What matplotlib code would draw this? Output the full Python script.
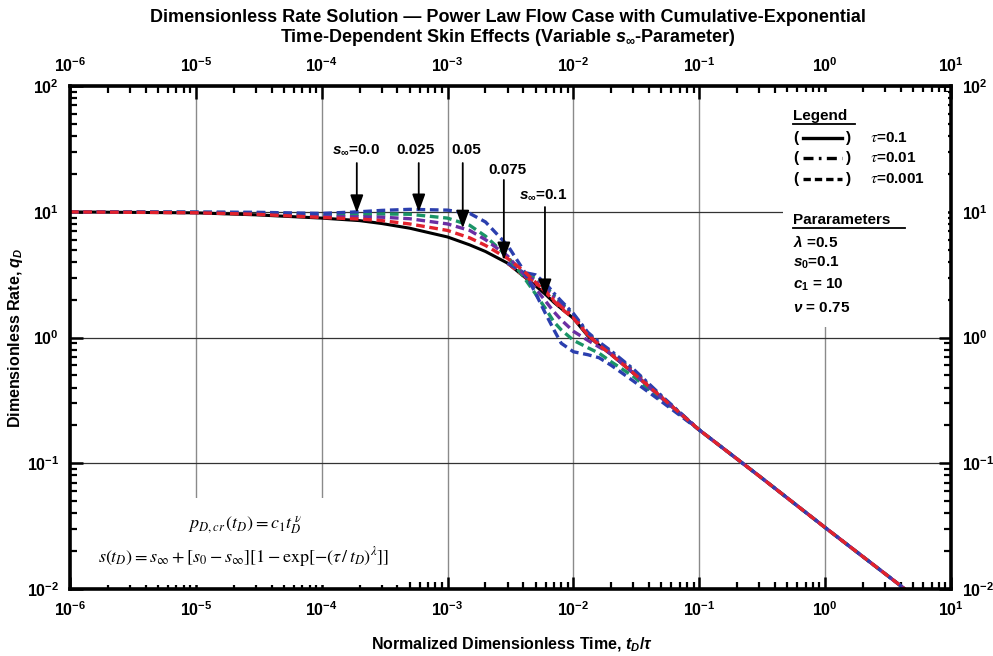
import numpy as np
import matplotlib
matplotlib.use('Agg')
import matplotlib.pyplot as plt
from matplotlib import font_manager
from matplotlib.lines import Line2D
from matplotlib.patches import Rectangle
from matplotlib.ticker import FixedLocator, LogLocator, NullFormatter

# normalized time t_D/tau shared by the tau=0.1 / tau=0.001 curves
t = [1e-6, 1e-5, 3e-5, 1e-4, 2e-4, 3e-4, 5e-4, 1e-3, 1.5e-3, 2e-3, 3e-3, 4e-3,
     5e-3, 6e-3, 7e-3, 8e-3, 1e-2, 1.3e-2, 1.6e-2, 2e-2, 3e-2, 5e-2, 0.1, 0.3,
     1.0, 4.3]

# solid reference curve
q_black = [9.97, 9.8, 9.45, 8.9, 8.5, 8.06, 7.4, 6.3, 5.45, 4.83, 3.9, 3.08,
           2.58, 2.2, 1.9, 1.7, 1.42, 1.03, 0.87, 0.73, 0.52, 0.335, 0.184,
           0.079, 0.0308, 0.01]

# dashed curves (tau=0.001), one per s_inf value
q_red = [9.97, 9.82, 9.55, 9.0, 8.75, 8.5, 8.0, 7.1, 6.2, 5.4, 4.25, 3.4,
         2.75, 2.3, 1.95, 1.7, 1.42, 1.05, 0.87, 0.73, 0.52, 0.335, 0.184,
         0.079, 0.0308, 0.01]
q_purple = [9.97, 9.85, 9.65, 9.15, 9.1, 9.05, 8.8, 8.0, 7.1, 6.0, 4.45, 3.2,
            2.45, 1.95, 1.6, 1.38, 1.12, 0.95, 0.84, 0.74, 0.52, 0.33, 0.184,
            0.079, 0.0308, 0.01]
q_green = [9.97, 9.9, 9.8, 9.4, 9.5, 9.6, 9.55, 8.9, 7.8, 6.4, 4.4, 3.05,
           2.22, 1.7, 1.33, 1.15, 0.95, 0.83, 0.75, 0.64, 0.49, 0.32, 0.184,
           0.079, 0.0308, 0.01]
q_blue = [9.97, 9.95, 9.9, 9.7, 10.0, 10.25, 10.45, 10.3, 9.7, 8.3, 5.4, 3.45,
          2.25, 1.55, 1.15, 0.9, 0.77, 0.73, 0.69, 0.6, 0.45, 0.31, 0.184,
          0.079, 0.0308, 0.01]

# dash-dot curves (tau=0.01)
t_dd = [3e-3, 4e-3, 5e-3, 6e-3, 7e-3, 8e-3, 1e-2, 1.3e-2, 1.6e-2, 2e-2, 3e-2,
        5e-2, 0.1]
q_red_dd = [3.9, 3.1, 2.7, 2.32, 1.98, 1.75, 1.46, 1.05, 0.88, 0.74, 0.53,
            0.336, 0.184]
q_purple_dd = [3.9, 3.15, 2.85, 2.45, 2.08, 1.82, 1.49, 1.07, 0.89, 0.75,
               0.54, 0.338, 0.184]
q_green_dd = [3.9, 3.2, 2.95, 2.55, 2.15, 1.88, 1.52, 1.08, 0.9, 0.76, 0.55,
              0.34, 0.184]
q_blue_dd = [3.9, 3.3, 3.15, 2.7, 2.25, 1.95, 1.55, 1.1, 0.92, 0.78, 0.56,
             0.345, 0.184]

# arrow labels: text, text position, arrow tail, arrow tip
s_inf_labels = [r'$s_\infty$=0.0', '0.025', '0.05', '0.075', r'$s_\infty$=0.1']
label_xy = [(1.87e-4, 31), (5.6e-4, 31), (1.4e-3, 31), (3.0e-3, 21.5),
            (5.73e-3, 13.6)]
arrow_tail = [(1.9e-4, 24.4), (5.9e-4, 24.4), (1.32e-3, 24.4), (2.8e-3, 17.9),
              (5.94e-3, 10.9)]
arrow_tip = [(1.9e-4, 9.8), (5.9e-4, 9.95), (1.32e-3, 7.4), (2.8e-3, 4.13),
             (5.94e-3, 2.1)]

x_exp = list(range(-6, 2))
y_exp = list(range(-2, 3))

BLUE = '#2b3fae'
GREEN = '#1a9466'
PURPLE = '#6b2fa3'
RED = '#e2222c'

installed = {f.name for f in font_manager.fontManager.ttflist}
narrow = 'Liberation Sans Narrow' if 'Liberation Sans Narrow' in installed else 'Liberation Sans'

# weight stays normal globally so the STIX formulas resolve to the regular face
plt.rcParams.update({
    'font.family': 'Liberation Sans',
    'mathtext.fontset': 'custom',
    'mathtext.rm': 'Liberation Sans:bold',
    'mathtext.bf': 'Liberation Sans:bold',
    'mathtext.it': 'Liberation Sans:italic:bold',
})
B = dict(fontweight='bold')

W, H = 993, 656
fig = plt.figure(figsize=(W / 100, H / 100), dpi=100)
ax = fig.add_axes([70 / W, 67 / H, 881 / W, 503 / H])


def fpos(X, Y):
    return X / W, 1 - Y / H


ax.set_xscale('log')
ax.set_yscale('log')
ax.set_xlim(1e-6, 10)
ax.set_ylim(1e-2, 1e2)

# grid: grey verticals, dark horizontals, kept under everything
ax.set_axisbelow(True)
ax.grid(True, which='major', axis='x', color='#8a8a8a', lw=1.0)
ax.grid(True, which='major', axis='y', color='#333333', lw=0.9)

# white panels behind the legend block and the formulas
ax.add_patch(Rectangle((0.809, 0.521), 0.188, 0.467, transform=ax.transAxes,
                       facecolor='white', edgecolor='none', zorder=1))
ax.add_patch(Rectangle((0.017, 0.008), 0.363, 0.173, transform=ax.transAxes,
                       facecolor='white', edgecolor='none', zorder=1))

dash = (2.6, 1.4)
dashdot = (3.0, 1.2, 0.9, 1.2)

ax.plot(t, q_black, color='black', lw=2.2, zorder=2)
for q, c in [(q_green_dd, GREEN), (q_purple_dd, PURPLE), (q_red_dd, RED),
             (q_blue_dd, BLUE)]:
    ax.plot(t_dd, q, color=c, lw=2.4, dashes=dashdot, zorder=2.2)
for q, c in [(q_green, GREEN), (q_purple, PURPLE), (q_blue, BLUE), (q_red, RED)]:
    ax.plot(t, q, color=c, lw=2.4, dashes=dash, zorder=2.4)

for txt, xy, tail, tip in zip(s_inf_labels, label_xy, arrow_tail, arrow_tip):
    ax.text(xy[0], xy[1], txt, ha='center', va='center', fontsize=11,
            zorder=4, **B)
    ax.annotate('', xy=tip, xytext=tail,
                arrowprops=dict(arrowstyle='-|>,head_length=0.6,head_width=0.22',
                                color='black', lw=1.3, mutation_scale=18,
                                shrinkA=0, shrinkB=0), zorder=4)

# ticks on all four sides, pointing in
ax.xaxis.set_major_locator(FixedLocator([10.0 ** e for e in x_exp]))
ax.yaxis.set_major_locator(FixedLocator([10.0 ** e for e in y_exp]))
ax.set_xticklabels([r'$\mathbf{10^{%d}}$' % e for e in x_exp])
ax.set_yticklabels([r'$\mathbf{10^{%d}}$' % e for e in y_exp])
for axis in (ax.xaxis, ax.yaxis):
    axis.set_minor_locator(LogLocator(base=10, subs=np.arange(2, 10), numticks=100))
    axis.set_minor_formatter(NullFormatter())
ax.tick_params(which='both', direction='in', top=True, right=True,
               labeltop=True, labelright=True, labelsize=11.5)
ax.tick_params(which='major', length=9, width=1.8, pad=8)
ax.tick_params(which='minor', length=5, width=1.6)
for sp in ax.spines.values():
    sp.set_linewidth(2.6)

ax.set_xlabel(r'Normalized Dimensionless Time, $t_D$/$\tau$', fontsize=11.5, **B)
ax.set_ylabel(r'Dimensionless Rate, $q_D$', fontsize=11.5, **B)
ax.xaxis.set_label_coords(0.502, -0.093)
ax.yaxis.set_label_coords(-0.051, 0.5)

# title
fig.text(*fpos(508, 17), 'Dimensionless Rate Solution \u2014 Power Law Flow Case with '
         'Cumulative-Exponential', ha='center', va='center', family=narrow,
         fontsize=13, **B)
fig.text(*fpos(508, 38), r'Time-Dependent Skin Effects (Variable $s_\infty$-Parameter)',
         ha='center', va='center', family=narrow, fontsize=13, **B)

# formulas
ax.text(*ax.transAxes.inverted().transform(fig.transFigure.transform(fpos(245, 525))),
        r'$p_{D,cr}\,(t_D) = c_1 t_D^{\;\nu}$', transform=ax.transAxes,
        ha='center', va='center', fontsize=13, math_fontfamily='stix', zorder=4)
ax.text(*ax.transAxes.inverted().transform(fig.transFigure.transform(fpos(244, 557))),
        r'$s(t_D) = s_\infty + [s_0 - s_\infty][1 - \exp[-(\tau\,/\,t_D)^{\lambda}]]$',
        transform=ax.transAxes, ha='center', va='center', fontsize=13,
        math_fontfamily='stix', zorder=4)

# legend block
lx = 793
fig.text(*fpos(lx, 116), 'Legend', ha='left', va='center', fontsize=11, **B)
fig.add_artist(Line2D([lx / W, 855 / W], [1 - 124 / H] * 2, color='black', lw=1.3))
rows = [(138, '-', r'$\tau$=0.1'), (158, (0, (3.0, 1.6, 0.8, 1.6)), r'$\tau$=0.01'),
        (179, (0, (2.2, 1.2)), r'$\tau$=0.001')]
for Y, ls, lab in rows:
    fig.text(*fpos(lx, Y), '(', ha='left', va='center', fontsize=11, **B)
    fig.text(*fpos(846, Y), ')', ha='left', va='center', fontsize=11, **B)
    fig.add_artist(Line2D([803 / W, 842 / W], [1 - Y / H] * 2, color='black',
                          lw=2.4, ls=ls))
    fig.text(*fpos(870, Y), lab, ha='left', va='center', fontsize=11,
             math_fontfamily='stix', **B)

fig.text(*fpos(lx, 220), 'Pararameters', ha='left', va='center', fontsize=11, **B)
fig.add_artist(Line2D([lx / W, 905 / W], [1 - 228 / H] * 2, color='black', lw=1.3))
params = [(242, r'$\lambda$ =0.5'), (263, r'$s_0$=0.1'), (285, r'$c_1$ = 10'),
          (308, r'$\nu$ = 0.75')]
for Y, lab in params:
    fig.text(*fpos(lx, Y), lab, ha='left', va='center', fontsize=11, **B)

fig.savefig('out.png', dpi=100)
